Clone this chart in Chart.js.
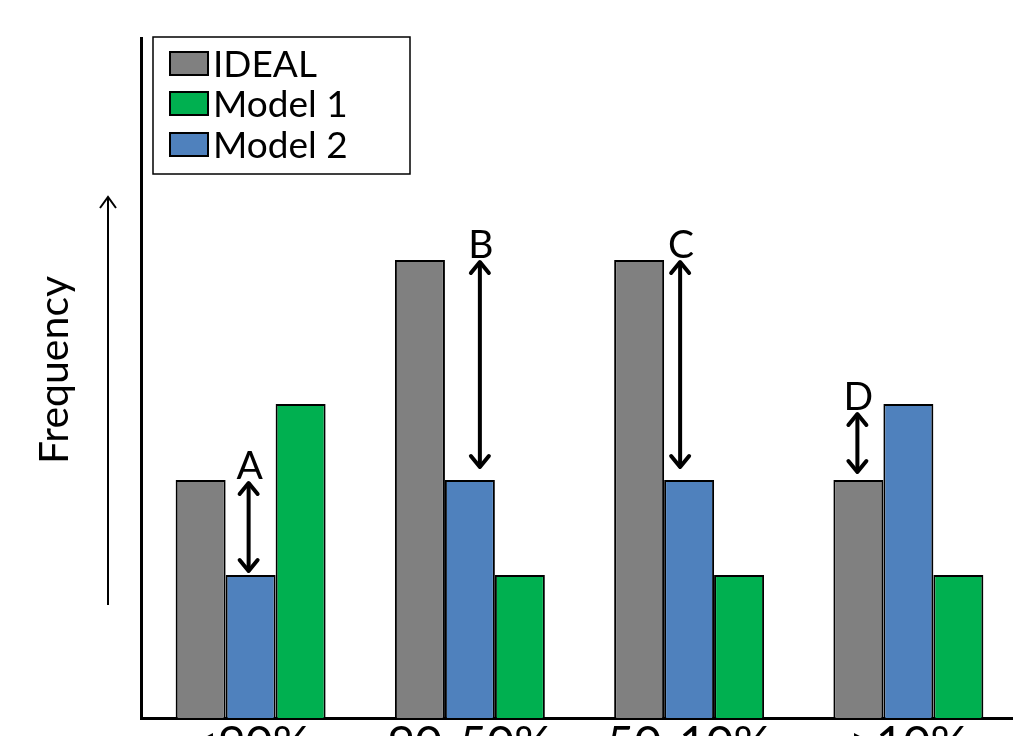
<!DOCTYPE html>
<html>
<head>
<meta charset="utf-8">
<script src="https://cdn.jsdelivr.net/npm/chart.js@4/dist/chart.umd.min.js"></script>
<style>
  html, body { margin: 0; padding: 0; background: #fff; }
  #wrap { width: 1013px; height: 736px; overflow: hidden; position: relative; background: #fff; }
  #c { position: absolute; left: 0; top: 0; }
</style>
</head>
<body>
<div id="wrap"><canvas id="c" width="1020" height="800"></canvas></div>
<script>
// Error bands on the horizontal axis
const categories = ['<90%', '90-50%', '50-10%', '>10%'];

// Frequencies (arbitrary units) per band
const idealValues  = [23.8, 45.8, 45.8, 23.8];
const model2Values = [14.3, 23.8, 23.8, 31.4];
const model1Values = [31.4, 14.3, 14.3, 14.3];

// Legend order as listed in the key
const legendOrder = ['IDEAL', 'Model 1', 'Model 2'];

// Difference markers: band index, labelled gap between two series
const gapLabels  = ['A', 'B', 'C', 'D'];
const gapUpper   = ['IDEAL', 'IDEAL', 'IDEAL', 'Model 2'];
const gapLower   = ['Model 2', 'Model 2', 'Model 2', 'IDEAL'];

const FONT = 'Lato, "Liberation Sans", sans-serif';

// styling for each gap marker (x anchor bar, offsets)
const gapStyle = [
  { anchor: 'Model 2', dx: -2, topInset: 3, botInset: 4 },
  { anchor: 'Model 2', dx: 10, topInset: 2, botInset: 13 },
  { anchor: 'Model 2', dx: -9, topInset: 2, botInset: 13 },
  { anchor: 'IDEAL',   dx: -1, topInset: 10, botInset: 8 }
];

function dsIndex(chart, label) {
  return chart.data.datasets.findIndex(d => d.label === label);
}

function drawArrow(ctx, x, y1, y2) {
  const head = 9, hl = 11;
  ctx.save();
  ctx.strokeStyle = '#000';
  ctx.lineWidth = 4;
  ctx.lineCap = 'round';
  ctx.lineJoin = 'round';
  ctx.beginPath();
  ctx.moveTo(x, y1 + 1);
  ctx.lineTo(x, y2 - 1);
  ctx.stroke();
  ctx.beginPath();
  ctx.moveTo(x - head, y1 + hl);
  ctx.lineTo(x, y1);
  ctx.lineTo(x + head, y1 + hl);
  ctx.moveTo(x - head, y2 - hl);
  ctx.lineTo(x, y2);
  ctx.lineTo(x + head, y2 - hl);
  ctx.stroke();
  ctx.restore();
}

const decorations = {
  id: 'decorations',
  afterDatasetsDraw(chart) {
    const ctx = chart.ctx;
    const yScale = chart.scales.y;

    // gap markers
    gapLabels.forEach((lab, i) => {
      const up = dsIndex(chart, gapUpper[i]);
      const lo = dsIndex(chart, gapLower[i]);
      const st = gapStyle[i];
      const an = dsIndex(chart, st.anchor);
      const bar = chart.getDatasetMeta(an).data[i];
      const x = bar.x + st.dx;
      const yTop = yScale.getPixelForValue(chart.data.datasets[up].data[i]) + st.topInset;
      const yBot = yScale.getPixelForValue(chart.data.datasets[lo].data[i]) - st.botInset;
      drawArrow(ctx, x, yTop, yBot);
      ctx.save();
      ctx.fillStyle = '#000';
      ctx.font = '39px ' + FONT;
      ctx.textAlign = 'center';
      ctx.textBaseline = 'alphabetic';
      ctx.fillText(lab, x + 1, yTop - 4);
      ctx.restore();
    });

    // y axis caption and arrow
    ctx.save();
    ctx.translate(68, 370);
    ctx.rotate(-Math.PI / 2);
    ctx.fillStyle = '#000';
    ctx.font = '41px ' + FONT;
    ctx.textAlign = 'center';
    ctx.textBaseline = 'alphabetic';
    ctx.fillText('Frequency', 0, 0);
    ctx.restore();

    ctx.save();
    ctx.strokeStyle = '#000';
    ctx.lineWidth = 2;
    ctx.beginPath();
    ctx.moveTo(108, 605);
    ctx.lineTo(108, 198);
    ctx.moveTo(100, 208);
    ctx.lineTo(108, 197);
    ctx.lineTo(116, 208);
    ctx.stroke();
    ctx.restore();

    // boxed key
    ctx.save();
    ctx.fillStyle = '#fff';
    ctx.fillRect(153, 37, 257, 137);
    ctx.strokeStyle = '#000';
    ctx.lineWidth = 1.5;
    ctx.strokeRect(153, 37, 257, 137);
    const baselines = [77, 117, 158];
    legendOrder.forEach((name, k) => {
      const ds = chart.data.datasets[dsIndex(chart, name)];
      const b = baselines[k];
      ctx.fillStyle = ds.backgroundColor;
      ctx.fillRect(170, b - 25, 38, 23);
      ctx.strokeStyle = '#000';
      ctx.lineWidth = 2;
      ctx.strokeRect(170, b - 25, 38, 23);
      ctx.fillStyle = '#000';
      ctx.font = '37px ' + FONT;
      ctx.textAlign = 'left';
      ctx.textBaseline = 'alphabetic';
      ctx.fillText(name, 213, b);
    });
    ctx.restore();
  }
};

new Chart(document.getElementById('c'), {
  type: 'bar',
  data: {
    labels: categories,
    datasets: [
      { label: 'IDEAL',   data: idealValues,  backgroundColor: '#808080' },
      { label: 'Model 2', data: model2Values, backgroundColor: '#4F81BD' },
      { label: 'Model 1', data: model1Values, backgroundColor: '#00B050' }
    ]
  },
  options: {
    responsive: false,
    devicePixelRatio: 1,
    animation: false,
    layout: { padding: { top: 38, left: 0, right: 2, bottom: 0 } },
    datasets: {
      bar: {
        categoryPercentage: 0.684,
        barPercentage: 1,
        borderColor: '#000',
        borderWidth: 2
      }
    },
    plugins: {
      legend: { display: false },
      tooltip: { enabled: false },
      title: { display: false }
    },
    scales: {
      x: {
        grid: { display: false, drawTicks: false },
        border: { display: true, color: '#000', width: 3 },
        ticks: { color: '#000', font: { family: FONT, size: 47 }, padding: -2, maxRotation: 0, autoSkip: false },
        afterFit(scale) { scale.height = 82; }
      },
      y: {
        min: 0,
        max: 68,
        grid: { display: false, drawTicks: false },
        border: { display: true, color: '#000', width: 3 },
        ticks: { display: false },
        afterFit(scale) { scale.width = 141; }
      }
    }
  },
  plugins: [decorations]
});
</script>
</body>
</html>
